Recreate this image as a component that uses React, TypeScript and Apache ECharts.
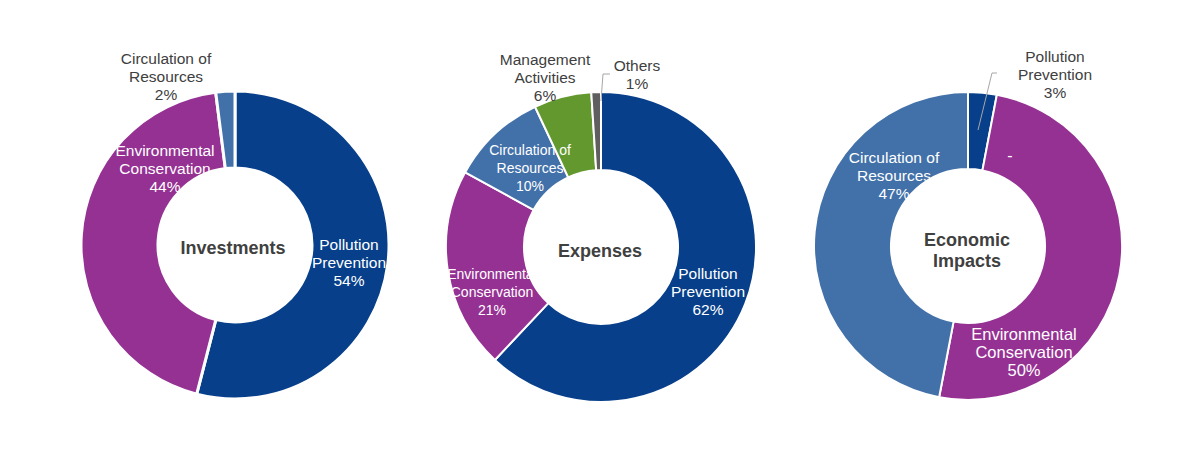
import React, { useEffect, useRef } from "react";
import * as echarts from "echarts";

// ---- data ----
const categories = [
  "Pollution Prevention",
  "Environmental Conservation",
  "Circulation of Resources",
  "Management Activities",
  "Others",
];
const labelNames = [
  "Pollution\nPrevention",
  "Environmental\nConservation",
  "Circulation of\nResources",
  "Management\nActivities",
  "Others",
];
const chartTitles = ["Investments", "Expenses", "Economic\nImpacts"];

// category indices (clockwise from 12 o'clock) and percentage values
const investmentCats = [0, 1, 2];
const investmentValues = [54, 44, 2];

const expenseCats = [0, 1, 2, 3, 4];
const expenseValues = [62, 21, 10, 6, 1];

const economicCats = [0, 1, 2];
const economicValues = [3, 50, 47];

// ---- styles / layout ----
const catColors = ["#073f8a", "#953193", "#4271a9", "#63982f", "#5f5f5f"];
const FONT = "'Liberation Sans', Arial, sans-serif";
const DARK = "#404040";

type LabelCfg = {
  x: number;
  y: number;
  outside?: boolean;
  size?: number;
};

const pies = [
  {
    cats: investmentCats,
    values: investmentValues,
    center: [235, 245],
    radius: [77, 154],
    border: 3,
    labels: [
      { x: 349, y: 262 },
      { x: 165, y: 168 },
      { x: 166, y: 76, outside: true },
    ] as LabelCfg[],
  },
  {
    cats: expenseCats,
    values: expenseValues,
    center: [601, 247],
    radius: [77, 155],
    border: 2,
    labels: [
      { x: 708, y: 291 },
      { x: 492, y: 292, size: 14 },
      { x: 530, y: 168, size: 14 },
      { x: 545, y: 77, outside: true },
      { x: 637, y: 74, outside: true },
    ] as LabelCfg[],
  },
  {
    cats: economicCats,
    values: economicValues,
    center: [968, 246],
    radius: [77, 154],
    border: 2,
    labels: [
      { x: 1055, y: 74, outside: true },
      { x: 1024, y: 352, size: 16.5 },
      { x: 894, y: 175 },
    ] as LabelCfg[],
  },
];

const leaderLines = [
  [
    [601, 101],
    [603, 74],
    [610, 74],
  ],
  [
    [978, 130],
    [992, 73],
    [997, 73],
  ],
];

const titlePos = [
  [233, 248],
  [600, 251],
  [967, 250],
];

function buildOption() {
  const series = pies.map((p) => ({
    type: "pie",
    center: p.center,
    radius: p.radius,
    startAngle: 90,
    clockwise: true,
    avoidLabelOverlap: false,
    silent: true,
    itemStyle: { borderColor: "#ffffff", borderWidth: p.border },
    label: {
      show: true,
      position: "inside",
      color: "#ffffff",
      fontFamily: FONT,
      fontSize: 15.5,
      lineHeight: 18,
      align: "center",
    },
    labelLine: { show: false },
    labelLayout: (params: any) => {
      const l = p.labels[params.dataIndex];
      return { x: l.x, y: l.y, align: "center", verticalAlign: "middle" };
    },
    data: p.values.map((v, i) => {
      const c = p.cats[i];
      const l = p.labels[i];
      return {
        name: categories[c],
        value: v,
        itemStyle: { color: catColors[c] },
        label: {
          position: "inside",
          color: l.outside ? DARK : "#ffffff",
          fontSize: l.size ?? 15.5,
          lineHeight: 18,
          formatter: `${labelNames[c]}\n${v}%`,
        },
      };
    }),
  }));

  const graphic: any[] = chartTitles.map((t, i) => ({
    type: "text",
    x: titlePos[i][0],
    y: titlePos[i][1],
    silent: true,
    z: 10,
    style: {
      text: t,
      fill: DARK,
      font: `bold 18px ${FONT}`,
      lineHeight: 21,
      align: "center",
      verticalAlign: "middle",
    },
  }));
  leaderLines.forEach((pts) => {
    graphic.push({
      type: "polyline",
      silent: true,
      z: 10,
      shape: { points: pts },
      style: { stroke: "#a6a6a6", lineWidth: 1, fill: null },
    });
  });
  graphic.push({
    type: "text",
    x: 1010,
    y: 155,
    silent: true,
    z: 10,
    style: {
      text: "-",
      fill: "#ffffff",
      font: `16px ${FONT}`,
      align: "center",
      verticalAlign: "middle",
    },
  });

  return {
    animation: false,
    backgroundColor: "#ffffff",
    series,
    graphic,
  };
}

export default function App() {
  const ref = useRef<HTMLDivElement>(null);
  useEffect(() => {
    document.body.style.margin = "0";
    const chart = echarts.init(ref.current!, null, { renderer: "svg" });
    chart.setOption(buildOption() as any);
    return () => chart.dispose();
  }, []);
  return <div ref={ref} style={{ width: 1200, height: 452 }} />;
}
